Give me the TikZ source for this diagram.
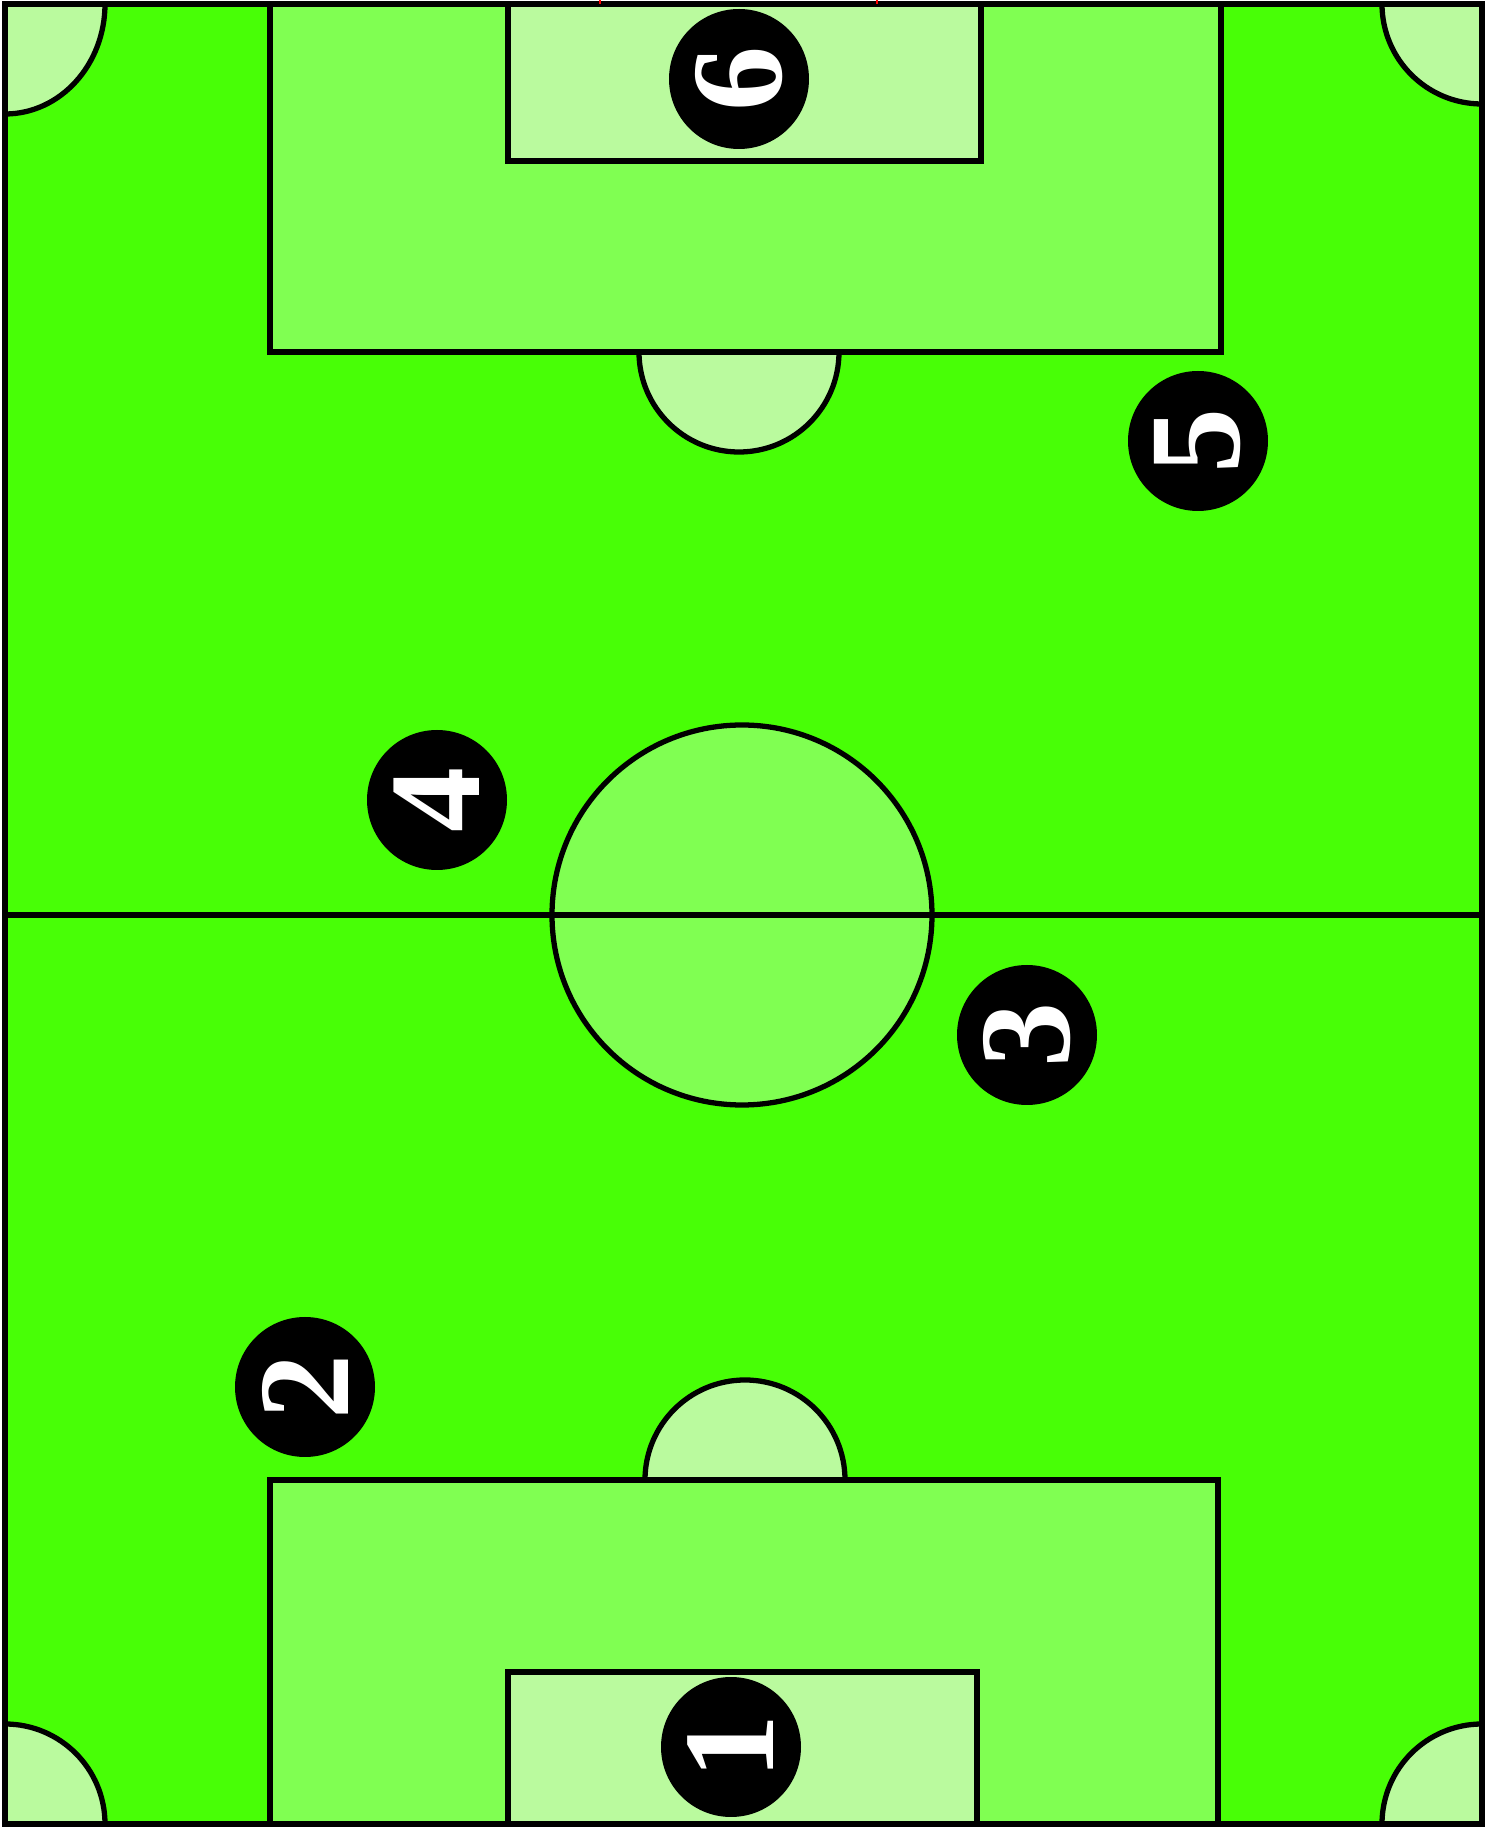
\documentclass[tikz,border=0pt]{standalone}
\usepackage{fontspec}
\newfontfamily\playerfont{Liberation Serif}
\definecolor{fieldgreen}{RGB}{72,255,6}
\definecolor{boxgreen}{RGB}{128,255,82}
\definecolor{spotgreen}{RGB}{186,250,158}
\tikzset{
  pitch line/.style={black, line width=1.5pt},
  player/.style={circle, fill=black, minimum size=14mm, inner sep=0pt,
    text=white, font=\playerfont\bfseries\fontsize{37}{37}\selectfont, rotate=90}
}

\begin{document}
\begin{tikzpicture}[x=0.1mm, y=0.1mm]
\useasboundingbox (0,0) rectangle (1494,1827);
\fill[white] (0,0) rectangle (1494,1827);
\fill[fieldgreen] (5,3) rectangle (1482,1823);
% penalty areas
\filldraw[pitch line, fill=spotgreen] (639,1475) arc[start angle=180, end angle=360, radius=100];
\filldraw[pitch line, fill=spotgreen] (845,347) arc[start angle=0, end angle=180, radius=100];
\filldraw[pitch line, fill=boxgreen] (270,1823) rectangle (1221,1475);
\filldraw[pitch line, fill=boxgreen] (270,3) rectangle (1218,347);
\filldraw[pitch line, fill=spotgreen] (508,1823) rectangle (981,1666);
\filldraw[pitch line, fill=spotgreen] (508,3) rectangle (977,155);
% corners
\filldraw[pitch line, fill=spotgreen] (5,1713) arc[start angle=-90, end angle=0, x radius=100, y radius=110] -- (5,1823) -- cycle;
\filldraw[pitch line, fill=spotgreen] (1382,1823) arc[start angle=180, end angle=270, radius=100] -- (1482,1823) -- cycle;
\filldraw[pitch line, fill=spotgreen] (5,103) arc[start angle=90, end angle=0, radius=100] -- (5,3) -- cycle;
\filldraw[pitch line, fill=spotgreen] (1382,3) arc[start angle=180, end angle=90, radius=100] -- (1482,3) -- cycle;
% centre
\filldraw[pitch line, fill=boxgreen] (742,912) circle[radius=190];
\draw[pitch line] (5,912) -- (1482,912);
\draw[pitch line] (5,3) rectangle (1482,1823);
\draw[red, line width=0.8pt] (600,1823) -- (600,1827);
\draw[red, line width=0.8pt] (877,1823) -- (877,1827);
% players
\node[player] (p1) at (731,80) {1};
\node[player] (p2) at (305,440) {2};
\node[player] (p3) at (1027,792) {3};
\node[player] (p4) at (437,1027) {4};
\node[player] (p5) at (1198,1386) {5};
\node[player] (p6) at (739,1748) {6};
\end{tikzpicture}
\end{document}
